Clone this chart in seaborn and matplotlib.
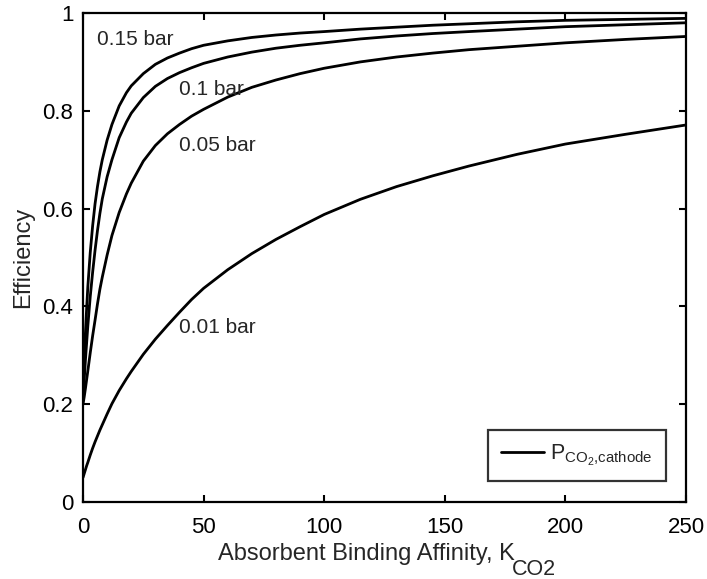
import numpy as np
import pandas as pd
import matplotlib
matplotlib.use("Agg")
import matplotlib.pyplot as plt
import seaborn as sns
from matplotlib.lines import Line2D

# ---- data ----
K = [0, 0.5, 1, 1.5, 2, 3, 4, 5, 6, 7, 8, 10, 12, 15, 18, 20, 25, 30, 35, 40, 45, 50,
     60, 70, 80, 90, 100, 115, 130, 145, 160, 180, 200, 225, 250]
eff_001 = [0.05, 0.058, 0.066, 0.074, 0.081, 0.096, 0.11, 0.123, 0.135, 0.147, 0.158,
           0.18, 0.201, 0.228, 0.252, 0.267, 0.302, 0.333, 0.361, 0.388, 0.414, 0.437,
           0.475, 0.508, 0.537, 0.563, 0.588, 0.619, 0.645, 0.667, 0.687, 0.711, 0.732,
           0.752, 0.771]
eff_005 = [0.20, 0.215, 0.232, 0.25, 0.268, 0.305, 0.34, 0.372, 0.405, 0.435, 0.46,
           0.505, 0.545, 0.592, 0.63, 0.652, 0.697, 0.729, 0.753, 0.772, 0.789, 0.803,
           0.828, 0.848, 0.863, 0.876, 0.887, 0.9, 0.91, 0.918, 0.925, 0.932, 0.939,
           0.946, 0.952]
eff_010 = [0.21, 0.25, 0.29, 0.325, 0.36, 0.42, 0.47, 0.515, 0.555, 0.59, 0.62, 0.665,
           0.70, 0.745, 0.777, 0.795, 0.827, 0.85, 0.866, 0.878, 0.888, 0.897, 0.91,
           0.92, 0.928, 0.934, 0.939, 0.947, 0.953, 0.958, 0.962, 0.967, 0.972, 0.976,
           0.98]
eff_015 = [0.23, 0.29, 0.345, 0.395, 0.44, 0.51, 0.565, 0.61, 0.645, 0.675, 0.70, 0.74,
           0.772, 0.81, 0.837, 0.851, 0.876, 0.895, 0.908, 0.918, 0.927, 0.934, 0.943,
           0.95, 0.955, 0.959, 0.962, 0.967, 0.971, 0.975, 0.978, 0.982, 0.985, 0.987,
           0.989]
pressures = ["0.01 bar", "0.05 bar", "0.1 bar", "0.15 bar"]
x_ticks = [0, 50, 100, 150, 200, 250]
y_ticks = [0, 0.2, 0.4, 0.6, 0.8, 1]
y_tick_labels = ["0", "0.2", "0.4", "0.6", "0.8", "1"]

frames = []
for p, e in zip(pressures, [eff_001, eff_005, eff_010, eff_015]):
    frames.append(pd.DataFrame({"K": K, "eff": e, "P": p}))
df = pd.concat(frames, ignore_index=True)

sns.set_style("ticks")
plt.rcParams["font.family"] = ["Liberation Sans", "DejaVu Sans"]
plt.rcParams["mathtext.fontset"] = "custom"
plt.rcParams["mathtext.rm"] = "Liberation Sans"
plt.rcParams["mathtext.it"] = "Liberation Sans"
plt.rcParams["mathtext.bf"] = "Liberation Sans:bold"

W, H = 707, 579
fig = plt.figure(figsize=(W / 100, H / 100), dpi=100)
ax = fig.add_axes([83 / W, 1 - 502 / H, 603 / W, 489 / H])

sns.lineplot(data=df, x="K", y="eff", hue="P", palette=["black"] * 4,
             linewidth=2.0, legend=False, ax=ax, sort=True)

ax.set_xlim(0, 250)
ax.set_ylim(0, 1)
ax.set_xticks(x_ticks)
ax.set_yticks(y_ticks)
ax.set_yticklabels(y_tick_labels)
ax.tick_params(direction="in", top=True, right=True, length=5, width=1.5,
               labelsize=16, colors="black")
ax.tick_params(axis="y", pad=7)
ax.tick_params(axis="x", pad=11)
for s in ax.spines.values():
    s.set_linewidth(1.6)
    s.set_color("black")

ax.set_xlabel("")
ax.set_ylabel("Efficiency", fontsize=17, labelpad=6)

# x label with full-size lowered subscript
t1 = fig.text(0, 0, "Absorbent Binding Affinity, K", fontsize=17, ha="left",
              va="baseline")
t2 = fig.text(0, 0, "CO2", fontsize=15.5, ha="left", va="baseline")
fig.canvas.draw()
r = fig.canvas.get_renderer()
w1 = t1.get_window_extent(r).width
w2 = t2.get_window_extent(r).width
cx = (83 + 686) / 2
x0 = cx - (w1 + w2) / 2 + 4
t1.set_position((x0 / W, 1 - 560 / H))
t2.set_position(((x0 + w1 - 3) / W, 1 - 575 / H))

# curve labels
ax.text(5.8, 0.945, "0.15 bar", fontsize=15, va="center", ha="left")
ax.text(39.8, 0.843, "0.1 bar", fontsize=15, va="center", ha="left")
ax.text(39.8, 0.73, "0.05 bar", fontsize=15, va="center", ha="left")
ax.text(39.8, 0.356, "0.01 bar", fontsize=15, va="center", ha="left")

handle = Line2D([0], [0], color="black", linewidth=2.0)
leg = ax.legend([handle], [r"$\mathrm{P_{CO_2{,}cathode}}$"], loc="lower right",
                fontsize=15.5, frameon=True, fancybox=False, handlelength=2.0,
                handletextpad=0.3, borderpad=0.6, borderaxespad=0,
                bbox_to_anchor=((666 - 83) / 603, (502 - 481) / 489))
leg.get_frame().set_edgecolor("black")
leg.get_frame().set_linewidth(1.6)

fig.savefig("out.png", dpi=100, facecolor="white")
